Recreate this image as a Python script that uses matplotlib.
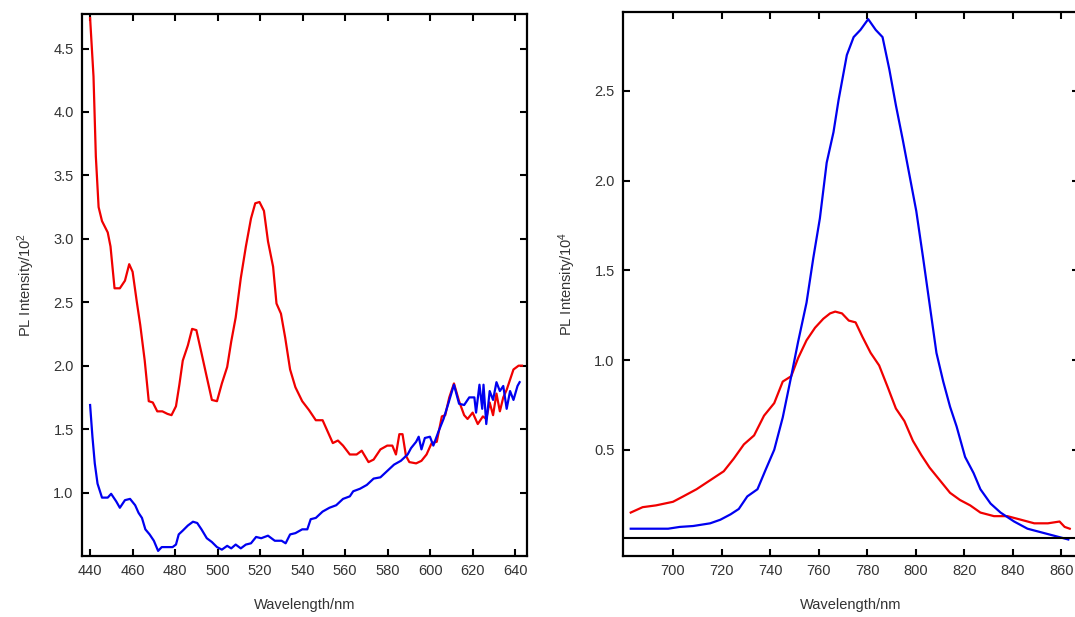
import matplotlib
matplotlib.use("Agg")
import matplotlib.pyplot as plt

plt.rcParams["font.family"] = ["Liberation Sans", "DejaVu Sans"]
plt.rcParams["mathtext.default"] = "regular"

# left panel: 440-645 nm region (x10^2)
vis_wl_red = [440, 441.6, 442.7, 444, 445.6, 448.3, 449.6, 451.5, 454, 456.4, 458.4, 460, 462,
              463.6, 465.7, 467.6, 469.5, 471.6, 474, 476.4, 478.3, 480.4, 482, 483.6, 486, 488,
              490, 492.4, 494.9, 497.3, 499.7, 502, 504.5, 506.4, 508.5, 510.9, 513.3, 515.7,
              517.7, 519.7, 521.8, 523.7, 526.1, 527.7, 529.8, 531.8, 534.1, 536.6, 539.8, 543,
              546.2, 549.4, 551.8, 554.2, 556.6, 559, 562.2, 565.4, 567.8, 571, 573.4, 576.6,
              579.8, 582.2, 583.9, 585.5, 587, 588.6, 590.2, 593.4, 595.9, 598.3, 600.7, 603.1,
              605.5, 607.1, 609, 611.2, 613.6, 616, 617.6, 620, 622.4, 624.8, 626.4, 628, 629.6,
              631.2, 632.8, 634.4, 636, 637.6, 639.2, 641.6, 643.2]
vis_red = [4.74, 4.28, 3.65, 3.25, 3.14, 3.05, 2.94, 2.61, 2.61, 2.67, 2.80, 2.74, 2.50, 2.32,
           2.04, 1.72, 1.71, 1.64, 1.64, 1.62, 1.61, 1.68, 1.85, 2.04, 2.16, 2.29, 2.28, 2.10,
           1.91, 1.73, 1.72, 1.86, 1.99, 2.19, 2.38, 2.69, 2.94, 3.16, 3.28, 3.29, 3.22, 2.98,
           2.78, 2.49, 2.41, 2.22, 1.97, 1.83, 1.72, 1.65, 1.57, 1.57, 1.48, 1.39, 1.41, 1.37,
           1.30, 1.30, 1.33, 1.24, 1.26, 1.34, 1.37, 1.37, 1.30, 1.46, 1.46, 1.29, 1.24, 1.23,
           1.25, 1.30, 1.39, 1.40, 1.60, 1.61, 1.75, 1.86, 1.72, 1.61, 1.58, 1.63, 1.54, 1.60,
           1.58, 1.71, 1.61, 1.78, 1.64, 1.75, 1.81, 1.89, 1.97, 2.00, 2.00]

vis_wl_blue = [440, 441.1, 442.2, 443.5, 445.6, 448.3, 449.9, 452.3, 454, 456.4, 458.8, 461.2,
               462.8, 464.4, 466, 468, 470, 472, 473.7, 476.4, 478.8, 480.4, 481.7, 483.6, 486,
               488.4, 490.4, 492.4, 494.9, 497.3, 499.7, 502, 504.5, 506.4, 508.5, 510.9, 513.3,
               515.7, 518.1, 520.5, 523.7, 526.9, 530.1, 532, 534.1, 536.6, 539.8, 542.2, 543.8,
               546.2, 549.4, 552.6, 555.8, 559, 562.2, 563.8, 567, 570.2, 573.4, 576.6, 579.8,
               583, 586.2, 589.4, 591, 593.4, 594.6, 595.9, 597.5, 599.9, 601.5, 603.9, 606.3,
               608.7, 611.2, 613.6, 616, 618.4, 620.8, 621.6, 623.2, 624.5, 625.1, 626.4, 628,
               629.6, 631.2, 632.8, 634.4, 636, 637.6, 639.2, 641.1, 642.1]
vis_blue = [1.69, 1.44, 1.23, 1.07, 0.96, 0.96, 0.99, 0.93, 0.88, 0.94, 0.95, 0.90, 0.84, 0.80,
            0.71, 0.67, 0.62, 0.54, 0.57, 0.57, 0.57, 0.59, 0.67, 0.70, 0.74, 0.77, 0.76, 0.71,
            0.64, 0.61, 0.57, 0.55, 0.58, 0.56, 0.59, 0.56, 0.59, 0.60, 0.65, 0.64, 0.66, 0.62,
            0.62, 0.60, 0.67, 0.68, 0.71, 0.71, 0.79, 0.80, 0.85, 0.88, 0.90, 0.95, 0.97, 1.01,
            1.03, 1.06, 1.11, 1.12, 1.17, 1.22, 1.25, 1.30, 1.35, 1.40, 1.44, 1.34, 1.43, 1.44,
            1.37, 1.48, 1.58, 1.71, 1.85, 1.70, 1.69, 1.75, 1.75, 1.63, 1.85, 1.66, 1.85, 1.54,
            1.80, 1.73, 1.87, 1.80, 1.84, 1.66, 1.80, 1.73, 1.84, 1.87]

# right panel: NIR region (x10^4)
nir_wl_blue = [682.6, 687.5, 698, 702.8, 708.3, 715.3, 719.5, 723.7, 727.1, 730.6, 734.8, 738.2,
               741.7, 745.2, 748.7, 751.5, 755, 757.8, 760.5, 763.3, 766.1, 768.2, 771.6, 774.4,
               777.2, 780.4, 783.5, 786.3, 789.1, 791.8, 794.6, 797.4, 800.2, 803, 805.7, 808.5,
               811.3, 814.1, 816.8, 820.3, 823.8, 826.6, 830.8, 834.9, 840.5, 846, 851.6, 857.2,
               862.8]
nir_blue = [0.06, 0.06, 0.06, 0.07, 0.075, 0.09, 0.11, 0.14, 0.17, 0.24, 0.28, 0.39, 0.50, 0.68,
            0.91, 1.10, 1.32, 1.57, 1.79, 2.10, 2.27, 2.45, 2.70, 2.80, 2.84, 2.90, 2.84, 2.80,
            2.62, 2.42, 2.23, 2.03, 1.83, 1.57, 1.31, 1.04, 0.88, 0.74, 0.63, 0.46, 0.37, 0.28,
            0.20, 0.15, 0.10, 0.06, 0.04, 0.02, 0.00]

nir_wl_red = [682.6, 687.5, 693, 700, 704.2, 709.7, 715.3, 720.9, 725, 729.2, 733.4, 737.5, 741.7,
              745.2, 748.7, 751.5, 755, 758.5, 761.9, 764.7, 766.8, 769.6, 772.4, 775.2, 778,
              781.4, 784.9, 788.4, 791.8, 795.3, 798.8, 802.3, 805.7, 809.9, 814.1, 818.2, 822.4,
              826.6, 832.2, 837.7, 843.3, 848.8, 854.4, 859.2, 861.3, 863.4]
nir_red = [0.15, 0.18, 0.19, 0.21, 0.24, 0.28, 0.33, 0.38, 0.45, 0.53, 0.58, 0.69, 0.76, 0.88,
           0.91, 1.01, 1.11, 1.18, 1.23, 1.26, 1.27, 1.26, 1.22, 1.21, 1.13, 1.04, 0.97, 0.85,
           0.73, 0.66, 0.55, 0.47, 0.40, 0.33, 0.26, 0.22, 0.19, 0.15, 0.13, 0.13, 0.11, 0.09,
           0.09, 0.10, 0.07, 0.06]

left_xticks = list(range(440, 641, 20))
left_yticks = [1.0, 1.5, 2.0, 2.5, 3.0, 3.5, 4.0, 4.5]
right_xticks = list(range(700, 861, 20))
right_yticks = [0.5, 1.0, 1.5, 2.0, 2.5]

text_color = "#333333"


def style_axes(ax):
    for sp in ax.spines.values():
        sp.set_linewidth(1.6)
        sp.set_color("black")
    ax.tick_params(direction="in", top=True, right=True, length=5, width=1.5,
                   labelsize=10.5, labelcolor=text_color, pad=6)


fig = plt.figure(figsize=(10.75, 6.17), dpi=100)

ax1 = fig.add_axes([0.0763, 0.0989, 0.414, 0.878])
ax1.plot(vis_wl_red, vis_red, color="#f00000", lw=1.6)
ax1.plot(vis_wl_blue, vis_blue, color="#0000f0", lw=1.6)
ax1.set_xlim(436.2, 645.6)
ax1.set_ylim(0.5, 4.77)
ax1.set_xticks(left_xticks)
ax1.set_yticks(left_yticks)
ax1.set_yticklabels([f"{v:.1f}" for v in left_yticks])
style_axes(ax1)
ax1.set_xlabel("Wavelength/nm", fontsize=10.5, color=text_color, labelpad=14)
ax1.set_ylabel("PL Intensity/10$^2$", fontsize=10.5, color=text_color, labelpad=12)

# right panel is cut off at the figure edge, like the source image
ax2 = fig.add_axes([0.5795, 0.0989, 0.4242, 0.8817])
ax2.plot(nir_wl_red, nir_red, color="#f00000", lw=1.6)
ax2.plot(nir_wl_blue, nir_blue, color="#0000f0", lw=1.6)
ax2.axhline(0.01, color="black", lw=1.5)
ax2.set_xlim(679.4, 867.2)
ax2.set_ylim(-0.092, 2.94)
ax2.set_xticks(right_xticks)
ax2.set_yticks(right_yticks)
ax2.set_yticklabels([f"{v:.1f}" for v in right_yticks])
style_axes(ax2)
ax2.set_xlabel("Wavelength/nm", fontsize=10.5, color=text_color, labelpad=14)
ax2.set_ylabel("PL Intensity/10$^4$", fontsize=10.5, color=text_color, labelpad=12)

fig.savefig("out.png", dpi=100)
